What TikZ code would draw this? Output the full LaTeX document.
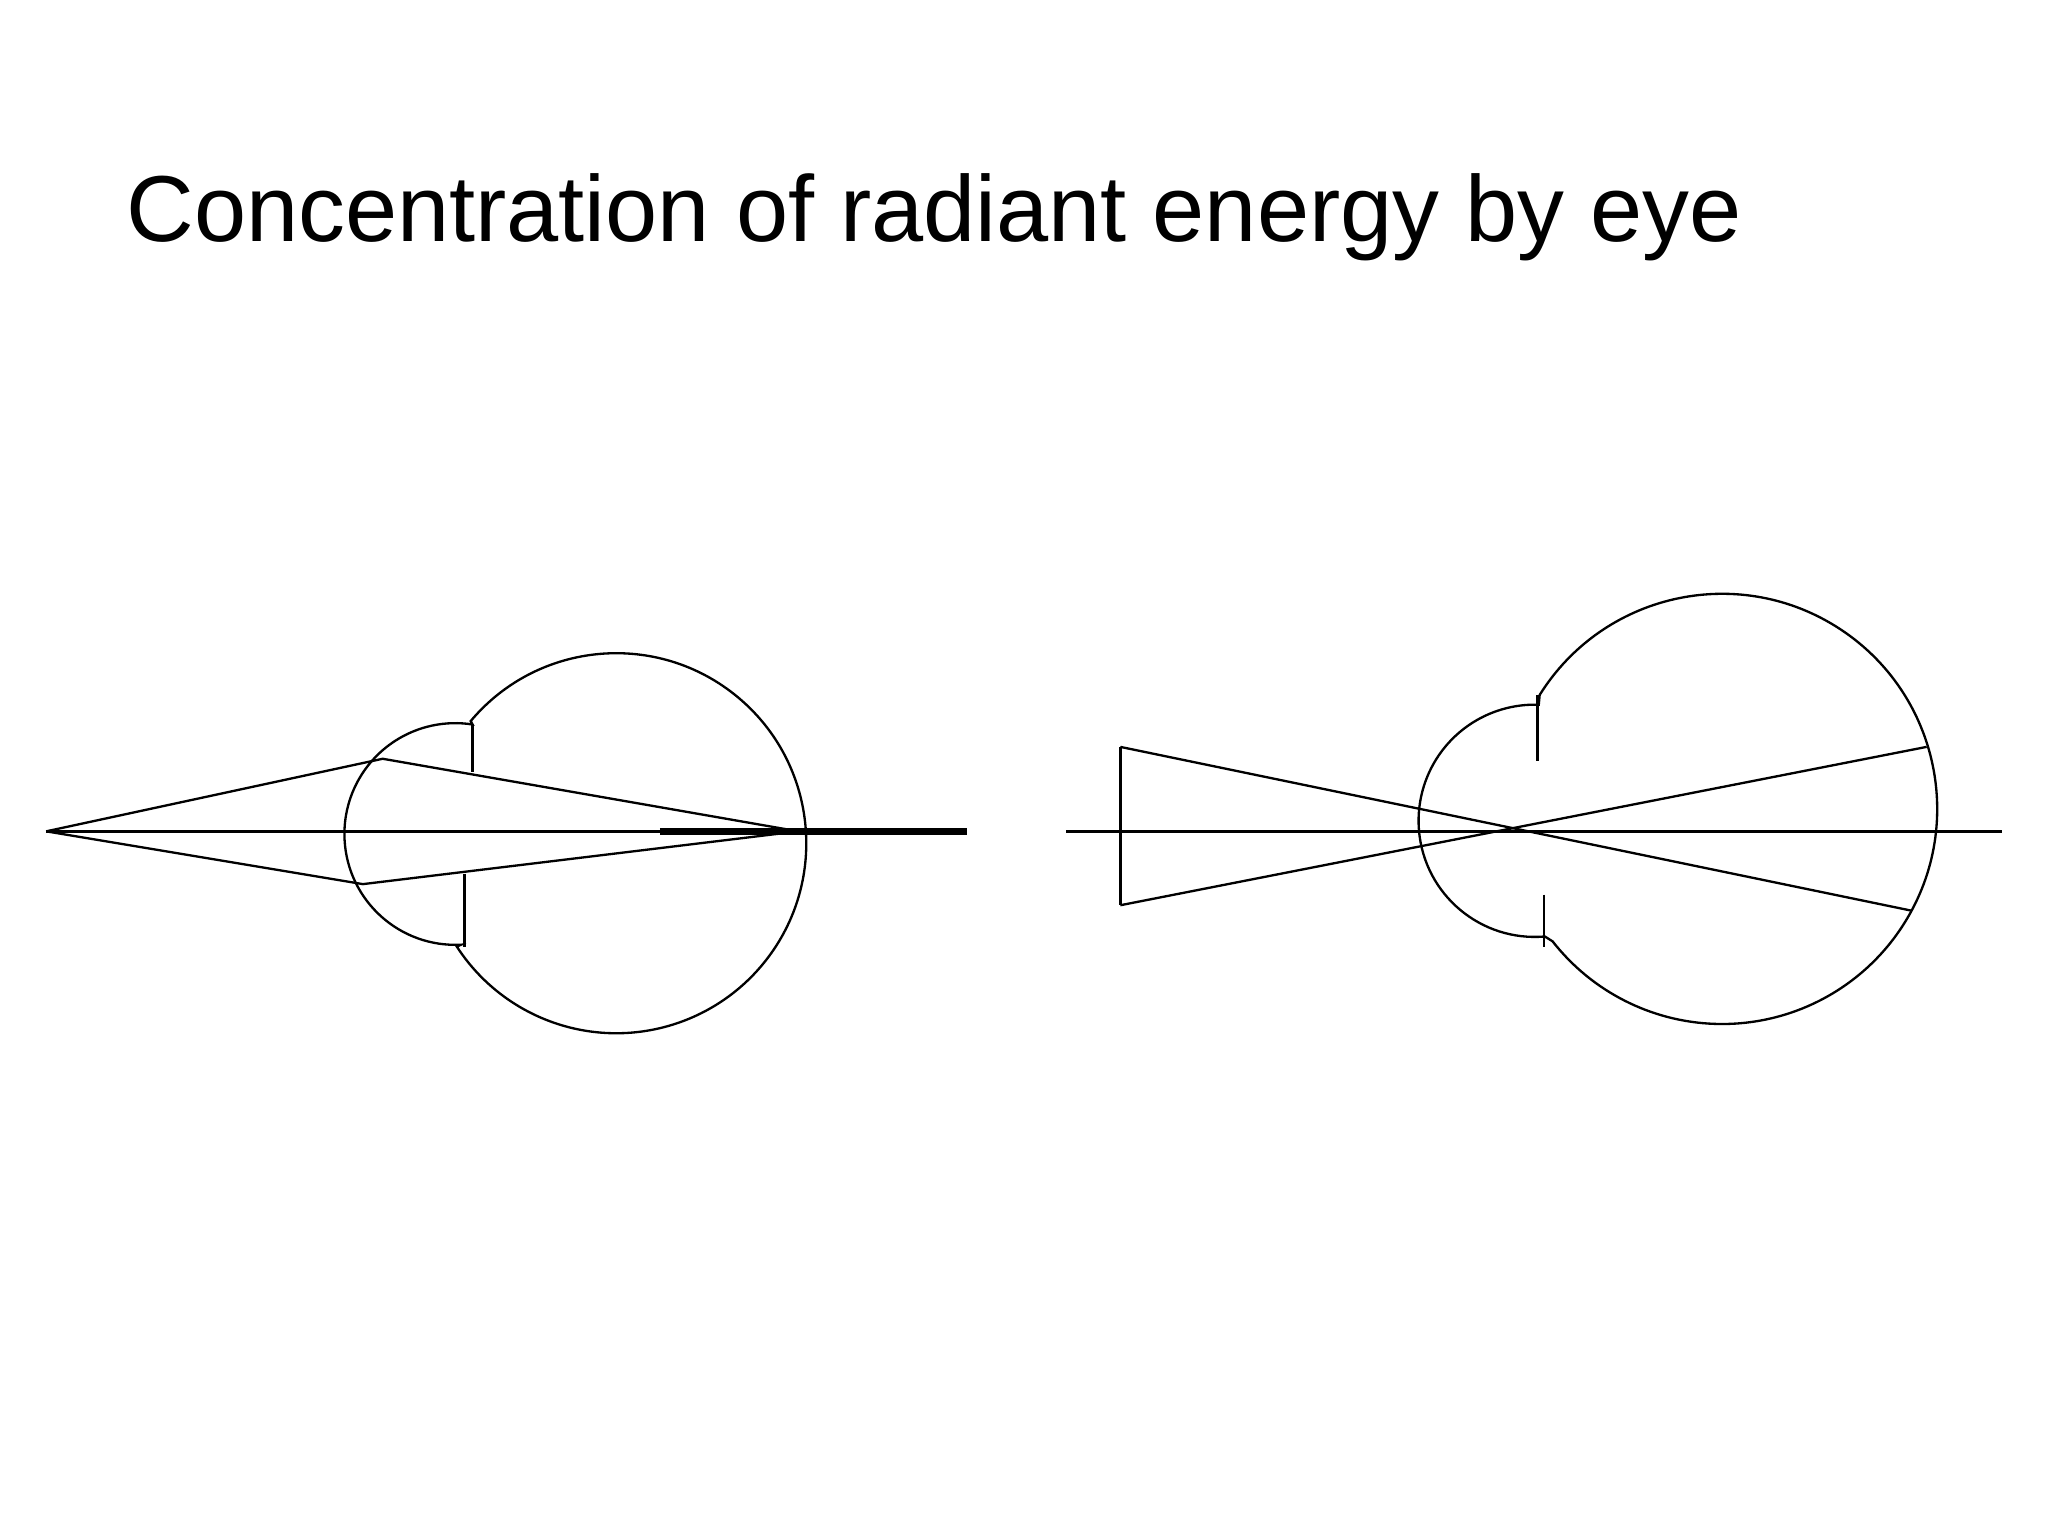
\documentclass[tikz,border=0pt]{standalone}
\usepackage{fontspec}
\setmainfont{Liberation Sans}
\usetikzlibrary{calc}
\begin{document}
\begin{tikzpicture}[x=0.01cm,y=0.01cm,line width=0.5pt,ln/.style={draw=black}]
\useasboundingbox (0,0) rectangle (1552,-1164);
\node[anchor=base west,inner sep=0,font=\fontsize{20.2}{24}\selectfont] (title) at (95,-183) {Concentration of radiant energy by eye};
% left eye
\draw[ln] ($(345,-632)+(273:84)$) arc[start angle=273,end angle=81,radius=84]
  -- ($(467,-639)+(140:144)$) arc[start angle=140,end angle=-147,radius=144] -- cycle;
\draw[ln] (358,-549) -- (358,-585);
\draw[ln] (352,-662) -- (352,-718);
\coordinate (La) at (35,-630);
\coordinate (Lt) at (290,-575);
\coordinate (Lb) at (275,-670);
\coordinate (Lf) at (605,-630);
\coordinate (Le) at (733,-630);
\coordinate (Lm) at (500,-630);
\draw[ln] (La) -- (Lt) -- (Lf);
\draw[ln] (La) -- (Lb) -- (Lf);
\draw[ln] (La) -- (Le);
\draw[ln,line width=1.5pt] (Lm) -- (Le);
% right eye
\draw[ln] ($(1163,-622)+(275:88)$) arc[start angle=275,end angle=88,radius=88]
  -- ($(1305,-613)+(148:163)$) arc[start angle=148,end angle=-142,radius=163] -- cycle;
\draw[ln] (1165,-527) -- (1165,-577);
\draw[ln] (1170,-678) -- (1170,-718);
\coordinate (Rt) at (849,-566);
\coordinate (Rb) at (849,-686);
\coordinate (Rp) at (1448,-690);
\coordinate (Rq) at (1460,-566);
\draw[ln] (Rt) -- (Rb);
\draw[ln] (Rt) -- (Rp);
\draw[ln] (Rb) -- (Rq);
\draw[ln] (808,-630) -- (1517,-630);
\end{tikzpicture}
\end{document}
